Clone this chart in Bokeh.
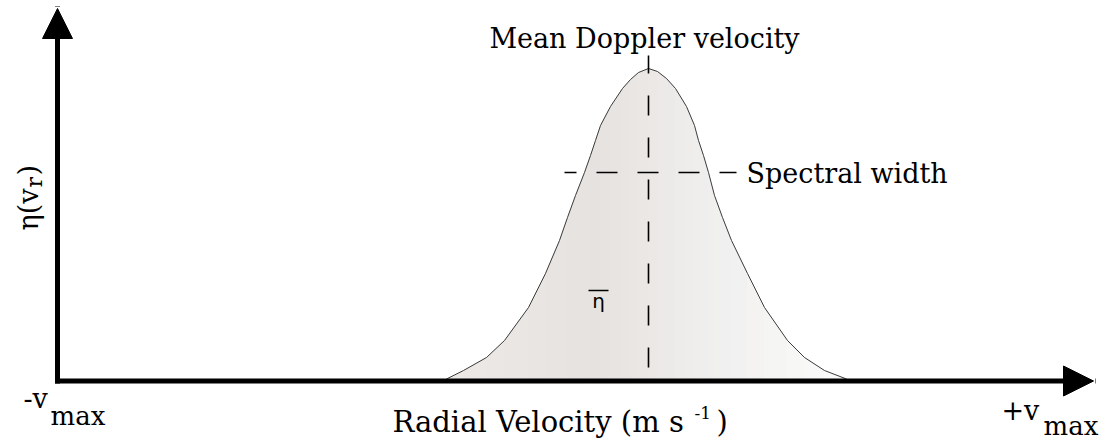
from bokeh.plotting import figure
from bokeh.models import Range1d, Arrow, NormalHead, Label
from bokeh.embed import file_html
from bokeh.resources import INLINE
from math import pi

# ---------------- data (plot units: origin = -v_max, eta = 0) ----------------
# Doppler spectrum
curve_v = [389, 406, 429, 447, 471, 488, 502, 510, 518, 527, 533, 538, 543, 553,
           565, 573, 581, 591, 600, 609, 618, 629, 637, 641, 646, 651, 657, 665,
           674, 690, 707, 730, 747, 767, 789]
curve_eta = [2, 10.5, 23.5, 40.5, 73.5, 107.5, 140.5, 163.5, 185.5, 208.5, 225.5,
             240.5, 255.5, 274.5, 292.5, 301.5, 308.5, 312.5, 309.5, 302.5, 292.5,
             274.5, 255.5, 240.5, 225.5, 208.5, 185.5, 163.5, 140.5, 107.5, 73.5,
             40.5, 23.5, 10.5, 2]
mean_velocity = 591            # vertical dashed line
mean_line_eta = [325.5, 13.5]
width_eta = 208.5              # horizontal dashed line (spectral width)
width_v = [507, 679]
axis_v_end = 1036              # arrow tips
axis_eta_end = 372.5

# ---------------- figure ----------------
W, H = 1105, 441
OX, OY = 57, 380.5             # page position of the origin
p = figure(width=W, height=H,
           x_range=Range1d(-OX, W - OX),
           y_range=Range1d(OY - H, OY),
           x_axis_location=None, y_axis_location=None,
           output_backend="svg", toolbar_location=None, min_border=0)
p.grid.visible = False
p.outline_line_color = None
p.background_fill_color = "white"
p.border_fill_color = "white"


def sx(px):
    return px - OX


def sy(py):
    return OY - py


# gradient fill of the spectrum, strip by strip
stops = [(389, (236, 233, 230)), (543, (230, 226, 223)),
         (643, (239, 238, 237)), (789, (251, 251, 251))]


def grad(v):
    for (a, ca), (b, cb) in zip(stops[:-1], stops[1:]):
        if a <= v <= b:
            t = (v - a) / (b - a)
            c = [round(ca[k] + (cb[k] - ca[k]) * t) for k in range(3)]
            return "#%02x%02x%02x" % tuple(c)
    return "#ffffff"


xs, ys, cols = [], [], []
for i in range(len(curve_v) - 1):
    xs.append([curve_v[i], curve_v[i], curve_v[i + 1], curve_v[i + 1]])
    ys.append([0, curve_eta[i], curve_eta[i + 1], 0])
    cols.append(grad((curve_v[i] + curve_v[i + 1]) / 2))
p.patches(xs, ys, fill_color=cols, line_color=cols, line_width=1)
p.line(curve_v, curve_eta, line_color="#3c3c3c", line_width=1, line_join="round")

# dashed lines
p.line([mean_velocity, mean_velocity], mean_line_eta, line_color="black",
       line_width=1.6, line_dash="20 22", line_dash_offset=2)
p.line(width_v, [width_eta, width_eta], line_color="black",
       line_width=1.6, line_dash="21 20", line_dash_offset=9)

# axes with arrow heads
for xe, ye in [(axis_v_end, 0), (0, axis_eta_end)]:
    p.add_layout(Arrow(x_start=0, y_start=0, x_end=xe, y_end=ye,
                       line_width=5, line_color="black", line_cap="square",
                       end=NormalHead(size=30, fill_color="black",
                                      line_color="black", line_width=1)))

SERIF = "DejaVu Serif"
BIG = 27


def lab(text, px, py, size=BIG, align="left", font=SERIF, angle=0.0):
    p.add_layout(Label(x=sx(px), y=sy(py), text=text, text_font=font,
                       text_font_size=f"{size}px", text_color="black",
                       text_align=align, text_baseline="alphabetic",
                       angle=angle))


lab("Mean Doppler velocity", 644, 38, align="center")
lab("Spectral width", 746, 173)
lab("η", 598, 300, size=20, font="DejaVu Sans", align="center")
p.segment(x0=[sx(588)], y0=[sy(290)], x1=[sx(608)], y1=[sy(290)],
          line_color="black", line_width=1.5)

# x axis label with superscript
lab("Radial Velocity (m s", 392, 421, size=29)
lab("-1", 694, 412, size=17)
lab(")", 716, 421, size=29)

# axis end labels
lab("-v", 23, 398)
lab("max", 50, 415, size=26)
lab("+v", 1001, 410)
lab("max", 1043, 425, size=26)

# rotated y label  η(v_r)
lab("η(v", 28, 230, angle=pi / 2)
lab("r", 34, 187, size=22, angle=pi / 2)
lab(")", 28, 175, angle=pi / 2)

open("out.html", "w").write(file_html(p, INLINE))
